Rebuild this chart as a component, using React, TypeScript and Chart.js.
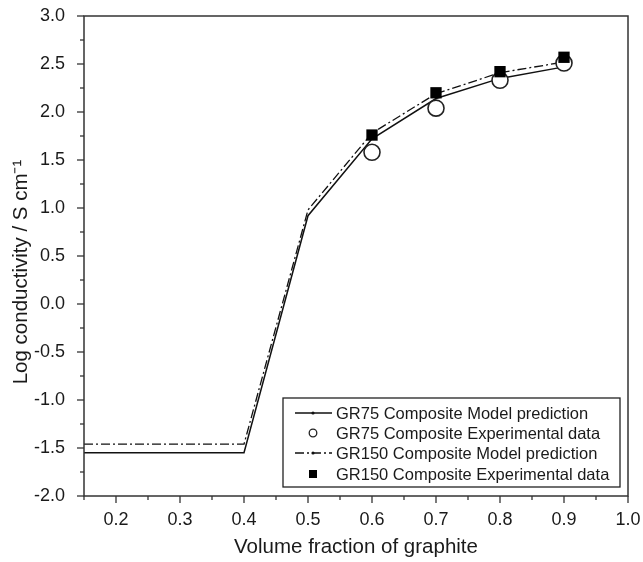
import React, { useEffect, useRef } from "react";
import { Chart, registerables } from "chart.js";

Chart.register(...registerables);

const xModel = [0.15, 0.2, 0.3, 0.4, 0.5, 0.6, 0.7, 0.8, 0.9];
const gr75Model = [-1.55, -1.55, -1.55, -1.55, 0.92, 1.72, 2.14, 2.35, 2.47];
const gr150Model = [-1.46, -1.46, -1.46, -1.46, 0.98, 1.78, 2.19, 2.41, 2.52];
const xExp = [0.6, 0.7, 0.8, 0.9];
const gr75Exp = [1.58, 2.04, 2.33, 2.51];
const gr150Exp = [1.76, 2.2, 2.42, 2.57];
const xMajorTicks = [0.2, 0.3, 0.4, 0.5, 0.6, 0.7, 0.8, 0.9, 1.0];
const xMinorTicks = [0.15, 0.25, 0.35, 0.45, 0.55, 0.65, 0.75, 0.85, 0.95];
const yMajorTicks = [-2, -1.5, -1, -0.5, 0, 0.5, 1, 1.5, 2, 2.5, 3];
const yMinorTicks = [-1.75, -1.25, -0.75, -0.25, 0.25, 0.75, 1.25, 1.75, 2.25, 2.75];
const seriesLabels = [
  "GR75 Composite Model prediction",
  "GR75 Composite Experimental data",
  "GR150 Composite Model prediction",
  "GR150 Composite Experimental data",
];
const yTitle = "Log conductivity / S cm\u207B\u00B9";
const xTitle = "Volume fraction of graphite";

const FONT = "'Liberation Sans', Arial, sans-serif";
const AXIS_COLOR = "#333";
const TEXT_COLOR = "#1a1a1a";
const DASHDOT = [9, 3, 2, 3];

const framePlugin = {
  id: "frame",
  afterDraw(chart: any) {
    const { ctx, chartArea: ca, scales } = chart;
    ctx.save();
    ctx.strokeStyle = AXIS_COLOR;
    ctx.lineWidth = 1.5;
    ctx.setLineDash([]);
    ctx.strokeRect(ca.left, ca.top, ca.right - ca.left, ca.bottom - ca.top);
    ctx.lineWidth = 1.3;
    const seg = (x1: number, y1: number, x2: number, y2: number) => {
      ctx.beginPath();
      ctx.moveTo(x1, y1);
      ctx.lineTo(x2, y2);
      ctx.stroke();
    };
    xMajorTicks.forEach((v) => {
      const p = scales.x.getPixelForValue(v);
      seg(p, ca.bottom, p, ca.bottom + 7);
    });
    xMinorTicks.forEach((v) => {
      const p = scales.x.getPixelForValue(v);
      seg(p, ca.bottom, p, ca.bottom + 4);
    });
    yMajorTicks.forEach((v) => {
      const p = scales.y.getPixelForValue(v);
      seg(ca.left - 7, p, ca.left, p);
    });
    yMinorTicks.forEach((v) => {
      const p = scales.y.getPixelForValue(v);
      seg(ca.left - 4, p, ca.left, p);
    });

    // y axis title (slightly below centre, as in the reference)
    ctx.save();
    ctx.translate(21, (ca.top + ca.bottom) / 2 + 16);
    ctx.rotate(-Math.PI / 2);
    ctx.font = `20.5px ${FONT}`;
    ctx.fillStyle = TEXT_COLOR;
    ctx.textAlign = "center";
    ctx.textBaseline = "middle";
    ctx.fillText(yTitle, 0, 0);
    ctx.restore();

    // legend box
    const bw = 337;
    const bh = 89;
    const bx = ca.right - 8 - bw;
    const by = ca.bottom - 9 - bh;
    ctx.fillStyle = "#fff";
    ctx.fillRect(bx, by, bw, bh);
    ctx.strokeStyle = "#222";
    ctx.lineWidth = 1.3;
    ctx.strokeRect(bx, by, bw, bh);
    const rowY = [15, 35, 55, 76];
    const sx = bx + 30;
    const tx = bx + 53;
    ctx.font = `16.5px ${FONT}`;
    ctx.textBaseline = "middle";
    ctx.textAlign = "left";
    chart.data.datasets.forEach((ds: any, i: number) => {
      const y = by + rowY[i];
      ctx.save();
      if (ds.showLine) {
        ctx.strokeStyle = ds.borderColor;
        ctx.lineWidth = 1.3;
        ctx.setLineDash(ds.borderDash || []);
        seg(bx + 12, y, bx + 49, y);
        ctx.setLineDash([]);
        ctx.fillStyle = ds.borderColor;
        ctx.beginPath();
        ctx.arc(sx, y, 1.6, 0, Math.PI * 2);
        ctx.fill();
      } else if (ds.pointStyle === "rect") {
        ctx.fillStyle = "#000";
        ctx.fillRect(sx - 4, y - 4, 8, 8);
      } else {
        ctx.strokeStyle = "#222";
        ctx.lineWidth = 1.3;
        ctx.fillStyle = "#fff";
        ctx.beginPath();
        ctx.arc(sx, y, 3.8, 0, Math.PI * 2);
        ctx.fill();
        ctx.stroke();
      }
      ctx.restore();
      ctx.fillStyle = TEXT_COLOR;
      ctx.fillText(ds.label, tx, y + 1);
    });
    ctx.restore();
  },
};

export default function App() {
  const ref = useRef<HTMLCanvasElement | null>(null);
  useEffect(() => {
    if (!ref.current) return;
    const chart = new Chart(ref.current, {
      type: "scatter",
      data: {
        datasets: [
          {
            label: seriesLabels[0],
            data: xModel.map((x, i) => ({ x, y: gr75Model[i] })),
            showLine: true,
            borderColor: "#111",
            borderWidth: 1.5,
            pointRadius: 0,
            order: 3,
          },
          {
            label: seriesLabels[1],
            data: xExp.map((x, i) => ({ x, y: gr75Exp[i] })),
            showLine: false,
            pointStyle: "circle",
            pointRadius: 8,
            pointBorderWidth: 1.6,
            pointBorderColor: "#222",
            pointBackgroundColor: "#fff",
            order: 1,
          },
          {
            label: seriesLabels[2],
            data: xModel.map((x, i) => ({ x, y: gr150Model[i] })),
            showLine: true,
            borderColor: "#111",
            borderWidth: 1.3,
            borderDash: DASHDOT,
            pointRadius: 0,
            order: 2,
          },
          {
            label: seriesLabels[3],
            data: xExp.map((x, i) => ({ x, y: gr150Exp[i] })),
            showLine: false,
            pointStyle: "rect",
            pointRadius: 8,
            pointBorderWidth: 0,
            pointBorderColor: "#000",
            pointBackgroundColor: "#000",
            order: 0,
          },
        ],
      },
      options: {
        responsive: false,
        maintainAspectRatio: false,
        animation: false,
        devicePixelRatio: 1,
        layout: { padding: { left: 0, top: 16, right: 15, bottom: 0 } },
        plugins: {
          legend: { display: false },
          tooltip: { enabled: false },
        },
        scales: {
          x: {
            type: "linear",
            min: 0.15,
            max: 1.0,
            afterBuildTicks: (s: any) => {
              s.ticks = xMajorTicks.map((v) => ({ value: v }));
            },
            afterFit: (s: any) => {
              s.height = 66;
              s.paddingLeft = 0;
              s.paddingRight = 0;
            },
            grid: { display: false },
            border: { display: false },
            ticks: {
              padding: 5,
              maxRotation: 0,
              autoSkip: false,
              color: TEXT_COLOR,
              font: { family: FONT, size: 18 },
              callback: (v: any) => Number(v).toFixed(1),
            },
            title: {
              display: true,
              text: xTitle,
              color: TEXT_COLOR,
              font: { family: FONT, size: 20.5 },
              padding: { top: 0, bottom: 2 },
            },
          },
          y: {
            type: "linear",
            min: -2,
            max: 3,
            afterBuildTicks: (s: any) => {
              s.ticks = yMajorTicks.map((v) => ({ value: v }));
            },
            afterFit: (s: any) => {
              s.width = 84;
              s.paddingTop = 0;
              s.paddingBottom = 0;
            },
            grid: { display: false },
            border: { display: false },
            ticks: {
              padding: 11,
              autoSkip: false,
              color: TEXT_COLOR,
              font: { family: FONT, size: 18 },
              callback: (v: any) => Number(v).toFixed(1),
            },
            title: { display: false },
          },
        },
      },
      plugins: [framePlugin],
    } as any);
    return () => chart.destroy();
  }, []);
  return (
    <div style={{ position: "absolute", left: 0, top: 0, width: 643, height: 562, background: "#fff" }}>
      <canvas ref={ref} width={643} height={562} />
    </div>
  );
}
